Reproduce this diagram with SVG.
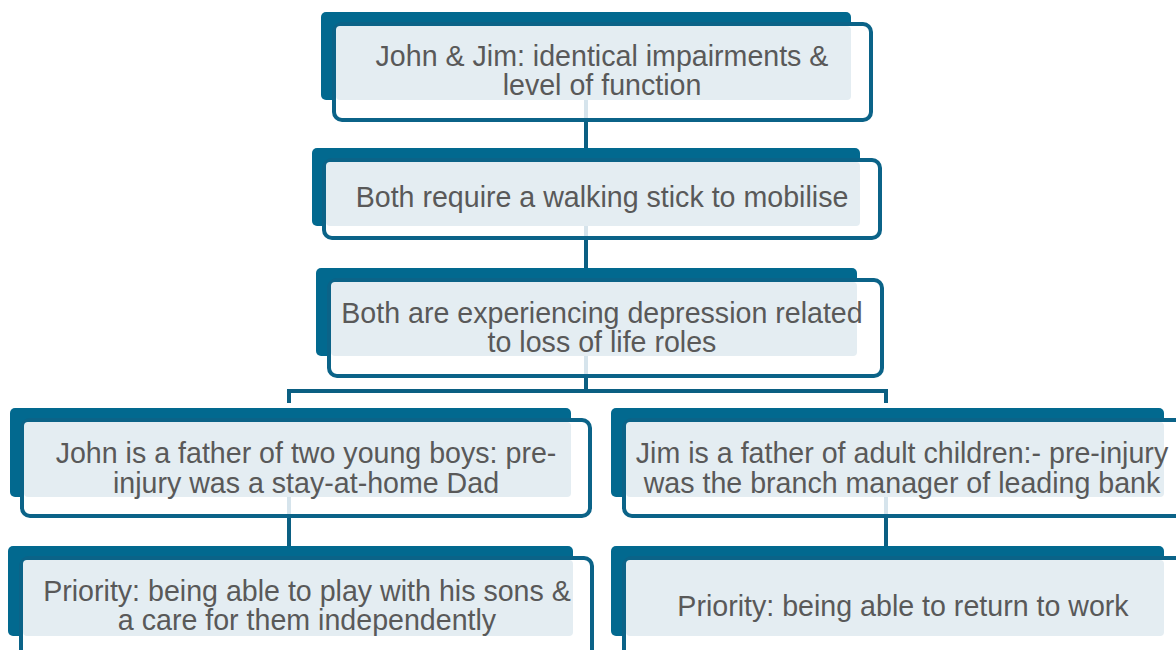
<svg xmlns="http://www.w3.org/2000/svg" width="1176" height="650" viewBox="0 0 1176 650">
  <style>
    .back { fill: #02698f; }
    .frame { fill: #ffffff; stroke: #0b6388; stroke-width: 4; }
    .panel { fill: #e4edf2; }
    .label { font-family: "Liberation Sans", Arial, sans-serif; font-size: 28.6px; fill: #595959; text-anchor: middle; }
    .link { stroke: #0b5f82; stroke-width: 4; fill: none; }
    .link-in { stroke: #d6e4ec; stroke-width: 4; fill: none; }
  </style>
  <rect width="1176" height="650" fill="#ffffff"/>

  <g id="connectors">
    <path class="link" d="M586 120 V148"/>
    <path class="link" d="M586 238 V268"/>
    <path class="link" d="M586 376 V391 M289 403 V391 H886 V403"/>
    <path class="link" d="M289 516 V546"/>
    <path class="link" d="M886 516 V546"/>
  </g>

  <g id="node-shared">
    <rect class="back" x="321" y="12" width="530" height="88" rx="5"/>
    <rect class="frame" x="334" y="24" width="537" height="96" rx="8"/>
    <rect class="panel" x="336" y="26" width="515" height="74" rx="4"/>
    <path class="link-in" d="M586 100 V118"/>
    <text class="label" x="602" y="66">John &amp; Jim: identical impairments &amp;</text>
    <text class="label" x="602" y="95">level of function</text>
  </g>

  <g id="node-stick">
    <rect class="back" x="312" y="148" width="548" height="78" rx="5"/>
    <rect class="frame" x="324" y="160" width="556" height="78" rx="8"/>
    <rect class="panel" x="326" y="162" width="534" height="64" rx="4"/>
    <path class="link-in" d="M586 226 V236"/>
    <text class="label" x="602" y="207">Both require a walking stick to mobilise</text>
  </g>

  <g id="node-depression">
    <rect class="back" x="316" y="268" width="541" height="88" rx="5"/>
    <rect class="frame" x="329" y="280" width="553" height="96" rx="8"/>
    <rect class="panel" x="331" y="282" width="526" height="74" rx="4"/>
    <path class="link-in" d="M586 356 V374"/>
    <text class="label" x="602" y="323">Both are experiencing depression related</text>
    <text class="label" x="602" y="352">to loss of life roles</text>
  </g>

  <g id="node-john">
    <rect class="back" x="10" y="408" width="561" height="89" rx="5"/>
    <rect class="frame" x="22" y="420" width="568" height="96" rx="8"/>
    <rect class="panel" x="24" y="422" width="547" height="75" rx="4"/>
    <path class="link-in" d="M289 497 V514"/>
    <text class="label" x="306" y="463">John is a father of two young boys: pre-</text>
    <text class="label" x="306" y="493">injury was a stay-at-home Dad</text>
  </g>

  <g id="node-john-priority">
    <rect class="back" x="8" y="546" width="565" height="90" rx="5"/>
    <rect class="frame" x="21" y="558" width="571" height="100" rx="8"/>
    <rect class="panel" x="23" y="560" width="550" height="76" rx="4"/>
    <text class="label" x="307" y="601">Priority: being able to play with his sons &amp;</text>
    <text class="label" x="307" y="630">a care for them independently</text>
  </g>

  <g id="node-jim">
    <rect class="back" x="611" y="408" width="553" height="89" rx="5"/>
    <rect class="frame" x="624" y="420" width="560" height="96" rx="8"/>
    <rect class="panel" x="626" y="422" width="538" height="75" rx="4"/>
    <path class="link-in" d="M886 497 V514"/>
    <text class="label" x="902" y="463">Jim is a father of adult children:- pre-injury</text>
    <text class="label" x="902" y="493">was the branch manager of leading bank</text>
  </g>

  <g id="node-jim-priority">
    <rect class="back" x="611" y="546" width="553" height="90" rx="5"/>
    <rect class="frame" x="624" y="558" width="560" height="100" rx="8"/>
    <rect class="panel" x="626" y="560" width="538" height="76" rx="4"/>
    <text class="label" x="903" y="616">Priority: being able to return to work</text>
  </g>
</svg>
